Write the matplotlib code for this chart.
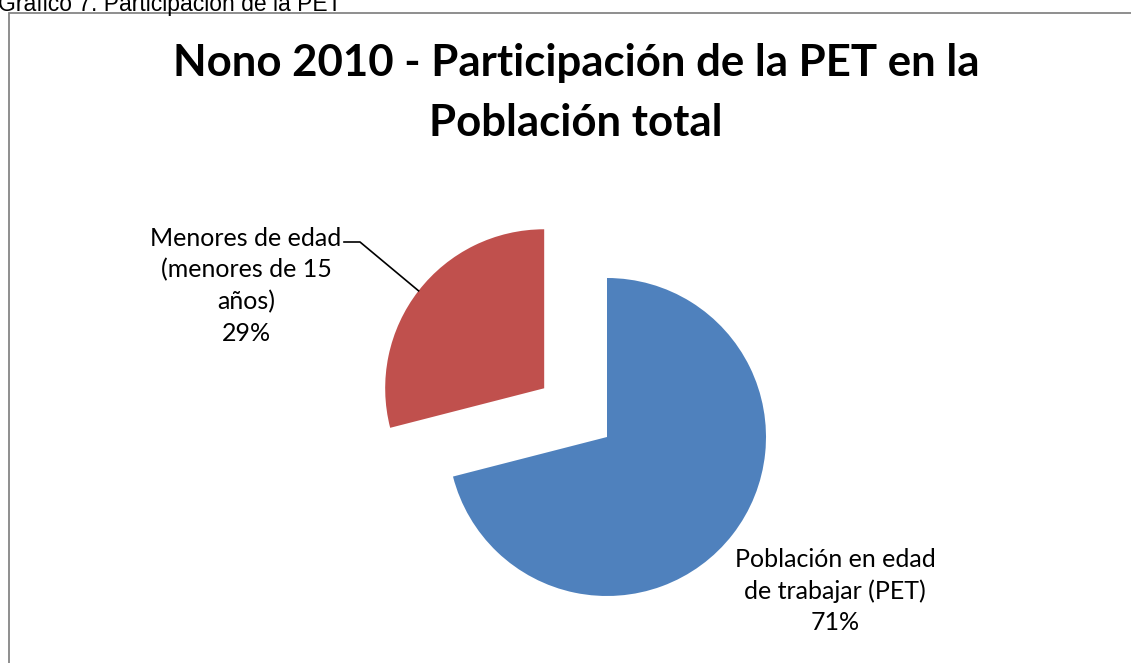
import matplotlib.pyplot as plt
import numpy as np
from matplotlib.patches import Rectangle

categorias = ["Población en edad\nde trabajar (PET)", "Menores de edad\n(menores de 15\naños)"]
valores = [71, 29]
colores = ["#4F81BD", "#C0504D"]
titulo = "Nono 2010 - Participación de la PET en la\nPoblación total"
encabezado = "Gráfico 7. Participación de la PET"

W, H = 1131, 663
fig = plt.figure(figsize=(W / 100, H / 100), dpi=100)
ax = fig.add_axes([0, 0, 1, 1])

# marco del grafico
fig.patches.append(Rectangle((8.5 / W, -0.05), 1.1, (H - 12.5) / H + 0.05,
                             transform=fig.transFigure, fill=False,
                             edgecolor='#868686', linewidth=1.3))

centro = (607, H - 437)
radio = 159
explode = [0, 0.5 * radio]   # la porcion roja va separada
wedges, _ = ax.pie(valores, colors=colores, startangle=90, counterclock=False,
                   center=centro, radius=radio, explode=explode,
                   wedgeprops=dict(linewidth=0), frame=True)
ax.set_xlim(0, W)
ax.set_ylim(0, H)
ax.set_aspect('equal')
ax.axis('off')

fuente = ['Lato', 'DejaVu Sans']
total = sum(valores)

# etiqueta PET
ax.text(835, H - 591, "%s\n%d%%" % (categorias[0], round(100 * valores[0] / total)),
        ha='center', va='center', fontsize=18, family=fuente, linespacing=1.45)

# etiqueta menores con linea guia
w = wedges[1]
ang = np.deg2rad((w.theta1 + w.theta2) / 2)
cx, cy = w.center
punta = (cx + radio * np.cos(ang), cy + radio * np.sin(ang))
ax.plot([344, 360, punta[0]], [H - 242, H - 242, punta[1]], color='black', lw=1.2)
ax.text(246, H - 286, "%s\n%d%%" % (categorias[1], round(100 * valores[1] / total)),
        ha='center', va='center', fontsize=18, family=fuente, linespacing=1.45)

fig.text(576 / W, 1 - 93 / H, titulo, ha='center', va='center', fontsize=31.5,
         fontweight='bold', family=fuente, linespacing=1.62)
fig.text(-2 / W, 1 - 10.5 / H, encabezado, ha='left', va='baseline', fontsize=16.5,
         family=['Liberation Sans', 'DejaVu Sans'])

fig.savefig("out.png", dpi=100)
